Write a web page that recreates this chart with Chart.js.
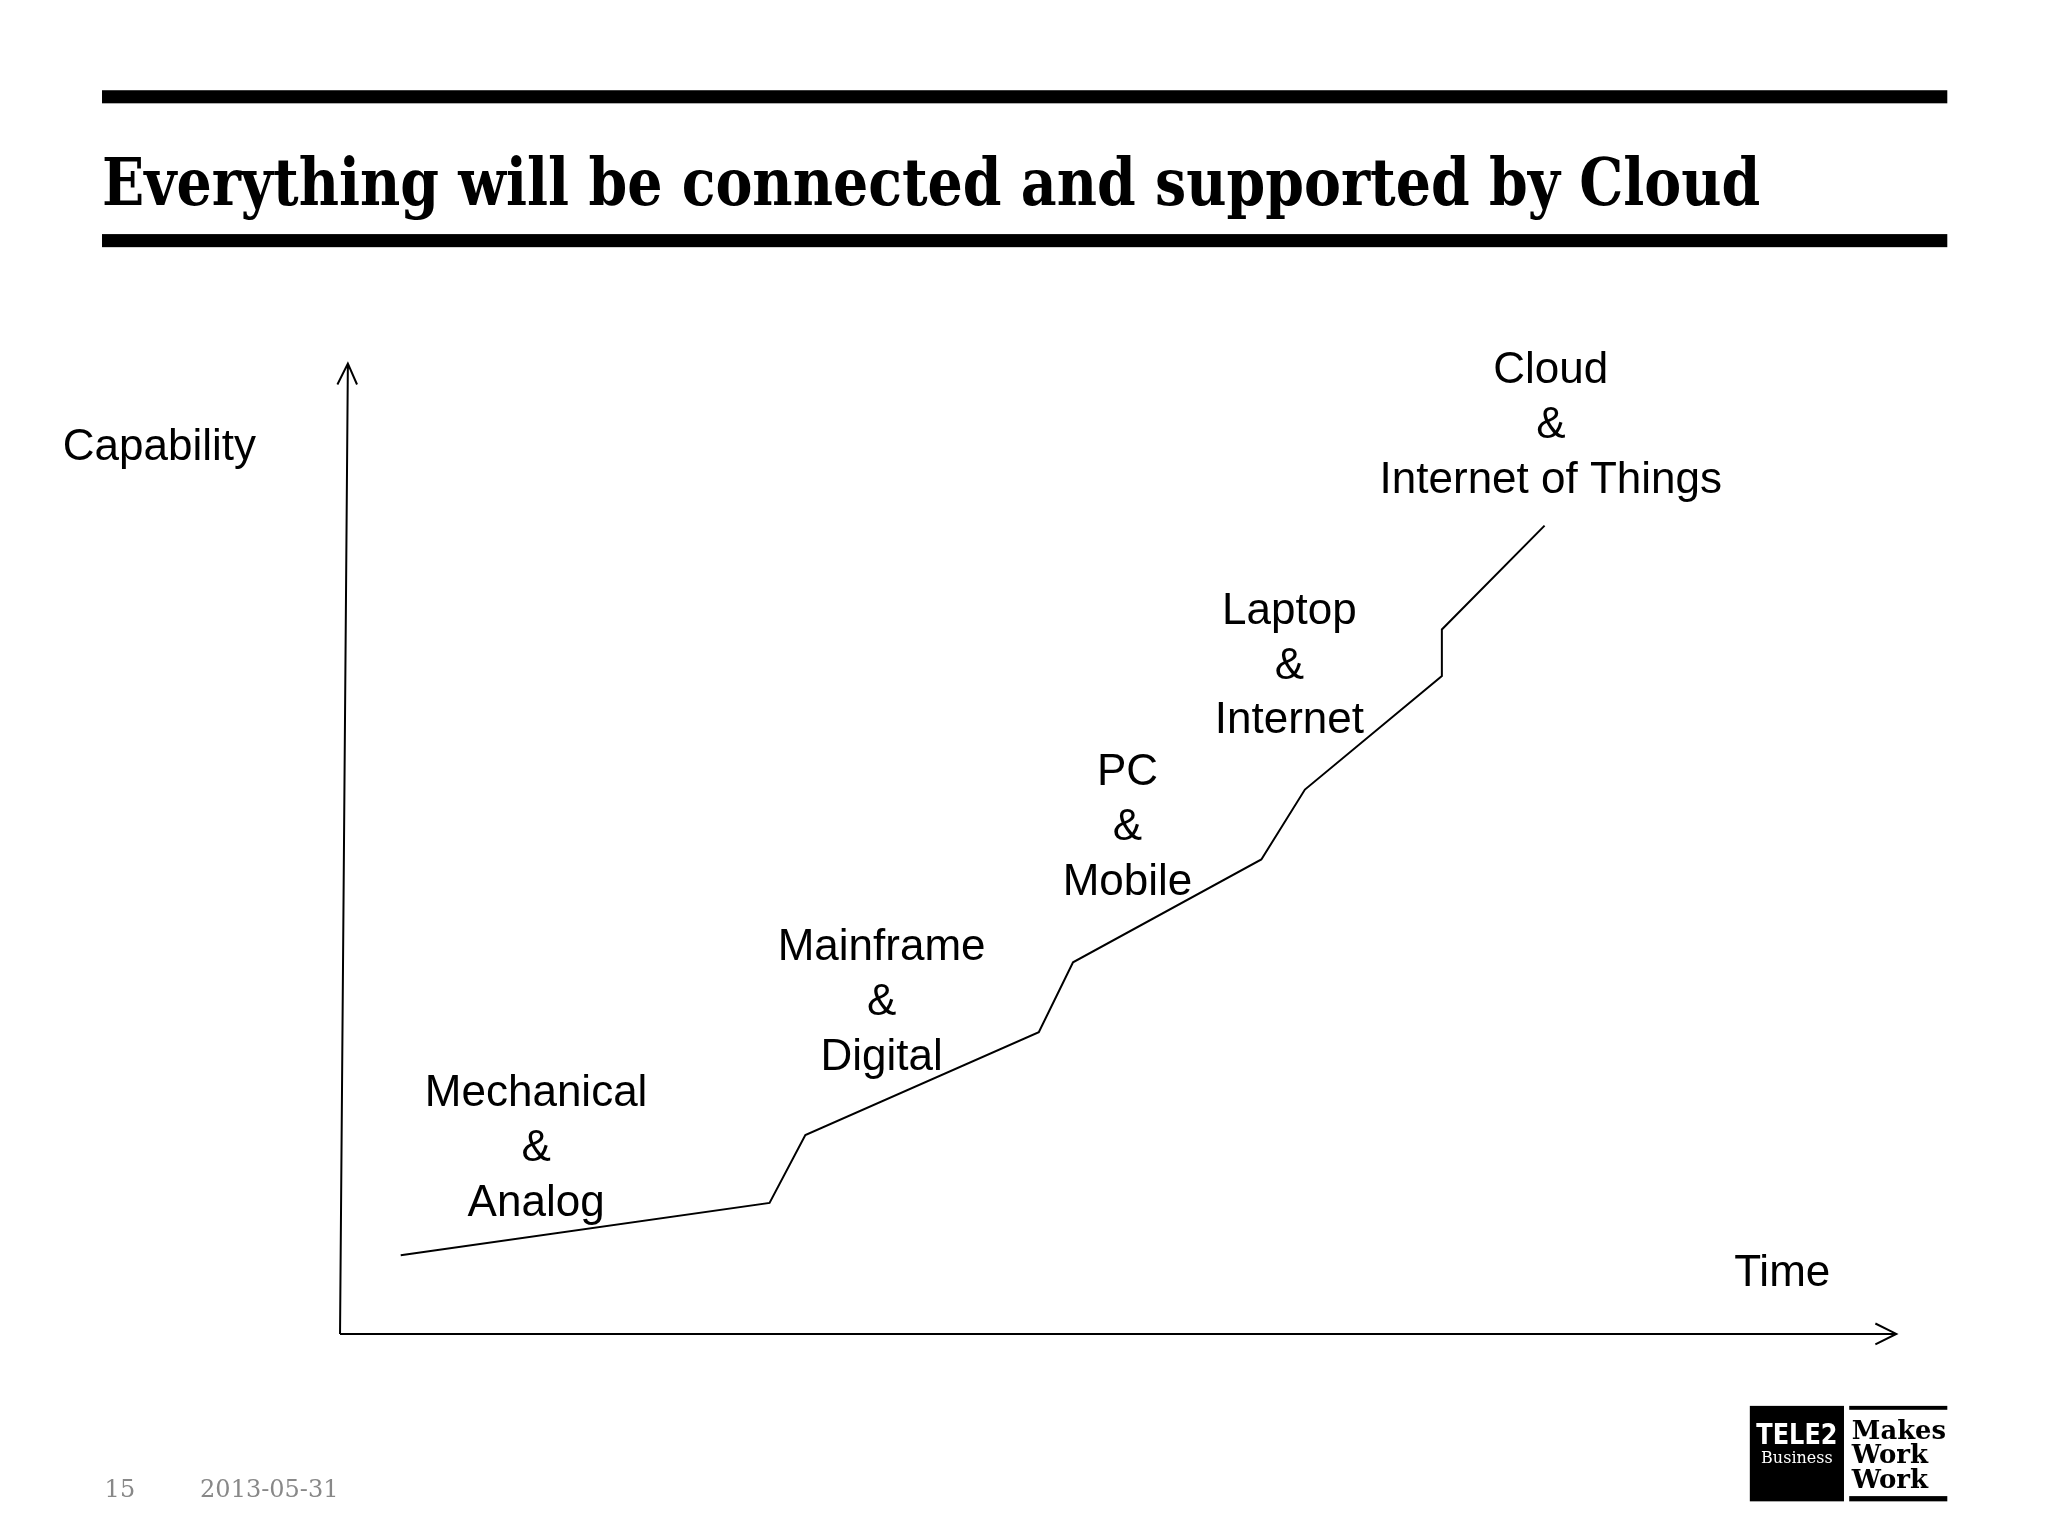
<!DOCTYPE html>
<html>
<head>
<meta charset="utf-8">
<script src="https://cdn.jsdelivr.net/npm/chart.js@4/dist/chart.umd.min.js"></script>
<style>
  html, body { margin: 0; padding: 0; background: #fff; }
  canvas { display: block; }
</style>
</head>
<body>
<canvas id="slide" width="2048" height="1536"></canvas>
<script>
// Capability curve (x = time %, y = capability %)
const timeValues = [3.9, 27.6, 29.9, 44.9, 47.1, 59.2, 62.0, 70.8, 70.8, 77.4];
const capabilityValues = [8.1, 13.5, 20.5, 31.1, 38.3, 48.9, 56.1, 67.8, 72.6, 83.3];

// Era labels: text lines and anchor (time, capability)
const eraLines = [
  ['Mechanical', '&', 'Analog'],
  ['Mainframe', '&', 'Digital'],
  ['PC', '&', 'Mobile'],
  ['Laptop', '&', 'Internet'],
  ['Cloud', '&', 'Internet of Things']
];
const eraX = [12.6, 34.8, 50.6, 61.0, 77.8];
const eraY = [23.5, 38.5, 56.6, 73.2, 98.0];

const S = 2048 / 1566; // design coords -> canvas pixels

const slidePlugin = {
  id: 'slide',
  beforeDraw(chart) {
    const ctx = chart.ctx;
    ctx.save();
    ctx.fillStyle = '#fff';
    ctx.fillRect(0, 0, chart.width, chart.height);
    ctx.restore();
  },
  afterDraw(chart) {
    const ctx = chart.ctx;
    const a = chart.chartArea;
    const xs = chart.scales.x, ys = chart.scales.y;
    ctx.save();

    // title bars + title
    ctx.fillStyle = '#000';
    ctx.fillRect(78 * S, 69 * S, 1411 * S, 10 * S);
    ctx.fillRect(78 * S, 179 * S, 1411 * S, 10 * S);
    ctx.font = 'bold ' + Math.round(50 * S) + 'px "DejaVu Serif"';
    ctx.textBaseline = 'alphabetic';
    ctx.fillText('Everything will be connected and supported by Cloud', 78 * S, 157 * S, 1268 * S);

    // axes with arrows
    ctx.strokeStyle = '#000';
    ctx.lineWidth = 2;
    ctx.beginPath();
    ctx.moveTo(a.left, a.bottom);
    ctx.lineTo(a.left + 6 * S, a.top);
    ctx.moveTo(a.left, a.bottom);
    ctx.lineTo(a.right, a.bottom);
    ctx.moveTo(a.left + 6 * S - 8 * S, a.top + 16 * S);
    ctx.lineTo(a.left + 6 * S, a.top);
    ctx.lineTo(a.left + 6 * S + 7 * S, a.top + 16 * S);
    ctx.moveTo(a.right - 16 * S, a.bottom - 8 * S);
    ctx.lineTo(a.right, a.bottom);
    ctx.lineTo(a.right - 16 * S, a.bottom + 8 * S);
    ctx.stroke();

    // axis titles
    ctx.font = Math.round(34 * S) + 'px "Liberation Sans"';
    ctx.textAlign = 'left';
    ctx.fillText('Capability', 48 * S, 352 * S);
    ctx.fillText('Time', 1326 * S, 983 * S);

    // era labels
    ctx.textAlign = 'center';
    eraLines.forEach((lines, i) => {
      const cx = xs.getPixelForValue(eraX[i]);
      const top = ys.getPixelForValue(eraY[i]);
      lines.forEach((t, j) => ctx.fillText(t, cx, top + j * 42 * S));
    });

    // footer
    ctx.fillStyle = '#888';
    ctx.textAlign = 'left';
    ctx.font = Math.round(18 * S) + 'px "DejaVu Serif"';
    ctx.fillText('15', 80 * S, 1145 * S);
    ctx.fillText('2013-05-31', 153 * S, 1145 * S);

    // logo
    ctx.fillStyle = '#000';
    ctx.fillRect(1338 * S, 1075 * S, 72 * S, 73 * S);
    ctx.fillStyle = '#fff';
    ctx.textAlign = 'center';
    ctx.font = 'bold ' + Math.round(22 * S) + 'px "DejaVu Sans Condensed"';
    ctx.fillText('TELE2', 1374 * S, 1104 * S, 62 * S);
    ctx.font = Math.round(12 * S) + 'px "DejaVu Serif"';
    ctx.fillText('Business', 1374 * S, 1119 * S, 62 * S);
    ctx.fillStyle = '#000';
    ctx.fillRect(1414 * S, 1075 * S, 75 * S, 3 * S);
    ctx.fillRect(1414 * S, 1144 * S, 75 * S, 4 * S);
    ctx.textAlign = 'left';
    ctx.font = 'bold ' + Math.round(20 * S) + 'px "DejaVu Serif"';
    ctx.fillText('Makes', 1416 * S, 1100 * S, 72 * S);
    ctx.fillText('Work', 1416 * S, 1119 * S, 72 * S);
    ctx.fillText('Work', 1416 * S, 1138 * S, 72 * S);
    ctx.restore();
  }
};

new Chart(document.getElementById('slide'), {
  type: 'scatter',
  data: {
    datasets: [{
      data: timeValues.map((t, i) => ({ x: t, y: capabilityValues[i] })),
      showLine: true,
      borderColor: '#000',
      borderWidth: 2,
      pointRadius: 0,
      tension: 0
    }]
  },
  options: {
    responsive: false,
    devicePixelRatio: 1,
    animation: false,
    layout: { padding: { left: 260 * S, right: 2048 - 1450 * S, top: 278 * S, bottom: 1536 - 1020 * S } },
    plugins: { legend: { display: false }, tooltip: { enabled: false } },
    scales: {
      x: { type: 'linear', min: 0, max: 100, display: false },
      y: { type: 'linear', min: 0, max: 100, display: false }
    }
  },
  plugins: [slidePlugin]
});
</script>
</body>
</html>
